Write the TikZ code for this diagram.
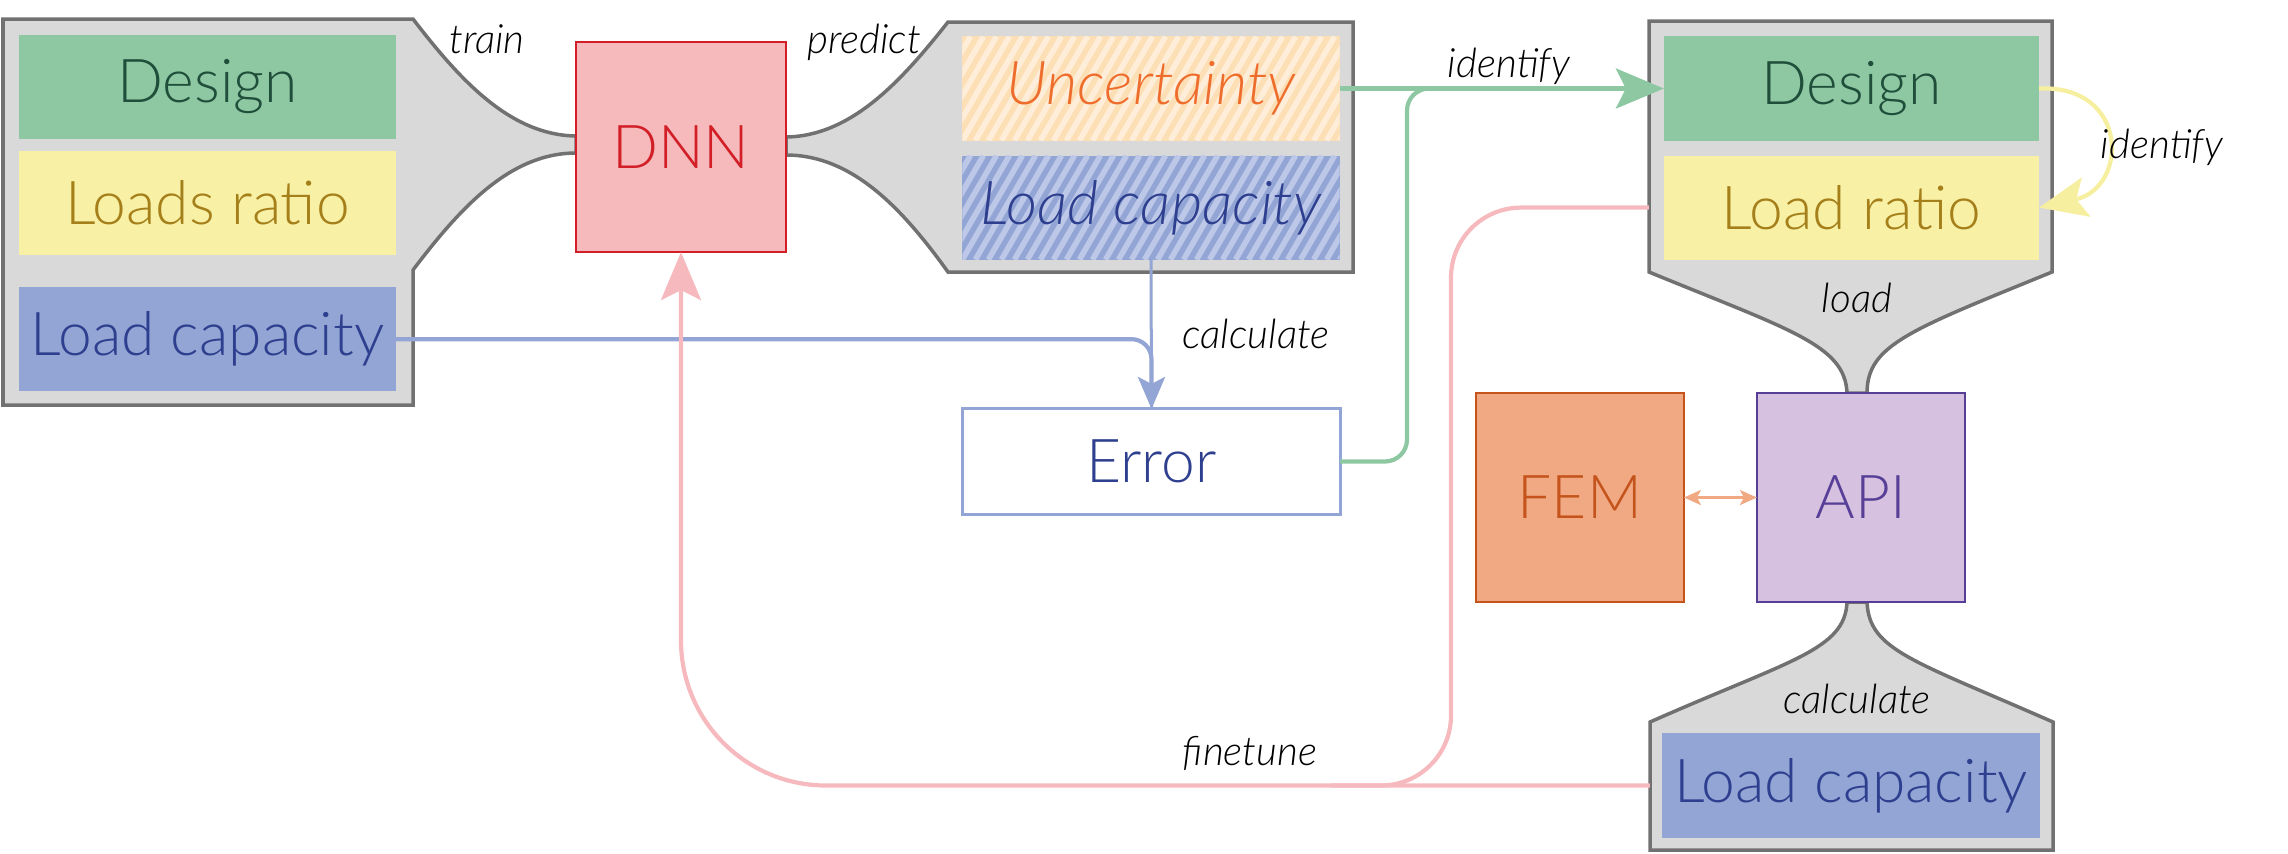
\documentclass[tikz,border=0pt]{standalone}
\usepackage{fontspec}
\IfFontExistsTF{Lato Light}{%
  \IfFontExistsTF{Lato Light Italic}{%
    \setmainfont{Lato Light}[ItalicFont={Lato Light Italic}]}{%
    \setmainfont{Lato Light}}}{%
  \setmainfont{Lato}}
\usepackage{tikz}
\usetikzlibrary{arrows.meta, calc, positioning}
\usepackage{xcolor}
\definecolor{TankGray}{HTML}{D9D9D9}
\definecolor{TankEdge}{HTML}{717171}
\definecolor{DesignGreen}{HTML}{8DC8A2}
\definecolor{DesignInk}{HTML}{1F4E3B}
\definecolor{RatioYellow}{HTML}{F8F0A4}
\definecolor{RatioInk}{HTML}{A47F1A}
\definecolor{CapBlue}{HTML}{93A5D4}
\definecolor{CapStripe}{HTML}{BDC8E8}
\definecolor{CapInk}{HTML}{2D3F8E}
\definecolor{UncOrange}{HTML}{FDDFB6}
\definecolor{UncStripe}{HTML}{FEEDD8}
\definecolor{UncInk}{HTML}{EF6D2C}
\definecolor{DnnPink}{HTML}{F6B9BC}
\definecolor{DnnRed}{HTML}{D21F27}
\definecolor{FemOrange}{HTML}{F0A983}
\definecolor{FemInk}{HTML}{C4541C}
\definecolor{ApiLilac}{HTML}{D6C1E0}
\definecolor{ApiInk}{HTML}{573E97}
\definecolor{FlowPink}{HTML}{F6BABE}
\definecolor{FlowGreen}{HTML}{8DC8A2}
\definecolor{FlowBlue}{HTML}{93A5D4}
\definecolor{FlowYellow}{HTML}{F7EFA0}
\newcommand{\boxfont}{\fontsize{17.2}{20}\selectfont}
\newcommand{\notefont}{\fontsize{11.5}{14}\selectfont\itshape}
\tikzset{%
  tank/.style={%
    fill=TankGray,%
    draw=TankEdge,%
    line width=0.035cm,%
  },
  flat_block/.style={%
    rectangle,%
    minimum width=3.77cm,%
    minimum height=1.04cm,%
    inner sep=0pt,%
    outer sep=0pt,%
    font=\boxfont,%
    align=center%
  },
  design_block/.style={flat_block, fill=DesignGreen, text=DesignInk},
  ratio_block/.style={flat_block, fill=RatioYellow, text=RatioInk},
  capacity_block/.style={flat_block, fill=CapBlue, text=CapInk},
  striped/.style={%
    path picture={%
      \foreach \k in {-6,...,30}{%
        \draw[#1, line width=0.056cm]
          ([xshift=\k*0.13cm]path picture bounding box.south west)
          --
          ++(0.6cm,1.04cm);
      }%
    },%
  },
  square_block/.style={%
    rectangle,%
    minimum width=2.08cm,%
    minimum height=2.09cm,%
    inner sep=0pt,%
    outer sep=0pt,%
    line width=0.02cm,%
    font=\boxfont%
  },
  error_block/.style={%
    flat_block,%
    minimum height=1.05cm,%
    fill=white,%
    draw=FlowBlue,%
    line width=0.03cm,%
    text=CapInk%
  },
  smooth_path/.style={%
    line width=0.042cm,%
    line join=round,%
  },
  annotate/.style={%
    font=\notefont,%
    anchor=base,%
    inner sep=0pt%
  },
  arrow/.style={-{Stealth[length=0.48cm, width=0.4cm, inset=0.1cm]}},
  small_arrow/.style={-{Stealth[length=0.32cm, width=0.27cm, inset=0.07cm]}},
  tiny_arrows/.style={{Stealth[length=0.17cm, width=0.15cm, inset=0.04cm]}-{Stealth[length=0.17cm, width=0.15cm, inset=0.04cm]}},
}

\begin{document}
\begin{tikzpicture}[x=0.01cm, y=-0.01cm]
    \useasboundingbox (0,0) rectangle (2288,853);

    % tanks
    \draw[tank]
      (3,19) -- (413,19)
      .. controls (460,80) and (510,135) .. (576,136)
      -- (576,153)
      .. controls (510,153) and (460,208) .. (413,270)
      -- (413,405) -- (3,405) -- cycle;
    \draw[tank]
      (786,137) .. controls (852,136) and (902,80) .. (948,22)
      -- (1353,22) -- (1353,272) -- (948,272)
      .. controls (902,208) and (852,155) .. (786,155) -- cycle;
    \draw[tank]
      (1649,21) -- (2052,21) -- (2052,272)
      .. controls (1910,330) and (1867,345) .. (1867,393)
      -- (1847,393)
      .. controls (1845,345) and (1790,330) .. (1649,272) -- cycle;
    \draw[tank]
      (1847,602) .. controls (1845,650) and (1790,660) .. (1650,722)
      -- (1650,850) -- (2053,850) -- (2053,722)
      .. controls (1912,660) and (1869,650) .. (1867,602) -- cycle;

    % blocks
    \node[design_block] (Design1) at (207.5,87) {Design};
    \node[ratio_block, below=0.12cm of Design1] (Ratio1) {Loads ratio};
    \node[capacity_block, below=0.32cm of Ratio1] (Capacity1) {Load capacity};
    \node[square_block, minimum width=2.1cm, minimum height=2.1cm,
      fill=DnnPink, draw=DnnRed, text=DnnRed] (DNN) at (681,147) {DNN};
    \node[flat_block, fill=UncOrange, striped=UncStripe, text=UncInk,
      font=\boxfont\itshape] (Uncertainty) at (1151,88.5) {Uncertainty};
    \node[flat_block, fill=CapBlue, striped=CapStripe, text=CapInk,
      font=\boxfont\itshape, below=0.15cm of Uncertainty] (Capacity2) {Load capacity};
    \node[error_block] (Error) at (1151.5,461.5) {Error};
    \node[design_block, minimum width=3.75cm] (Design2) at (1851.5,88.5) {Design};
    \node[ratio_block, minimum width=3.75cm, below=0.15cm of Design2] (Ratio2) {Load ratio};
    \node[square_block, fill=ApiLilac, draw=ApiInk, text=ApiInk] (API) at (1861,497.5) {API};
    \node[square_block, line width=0.025cm, fill=FemOrange, draw=FemInk, text=FemInk,
      left=0.73cm of API] (FEM) {FEM};
    \node[capacity_block, minimum width=3.78cm] (Capacity3) at (1851,785.5) {Load capacity};

    \coordinate (identify_join) at (1407,88.5);
    \coordinate (finetune_join) at (1451,785.5);

    % flows
    \draw[smooth_path, color=FlowBlue, small_arrow, rounded corners=0.2cm]
      (Capacity1.east)
      -|
      (Error.north);
    \draw[smooth_path, color=FlowBlue, line width=0.03cm]
      (Capacity2.south)
      --
      (Error.north);
    \draw[smooth_path, color=FlowGreen, arrow]
      (Uncertainty.east)
      --
      (Design2.west);
    \draw[smooth_path, color=FlowGreen, rounded corners=0.22cm]
      (Error.east)
      -|
      (identify_join)
      --
      ++(80,0);
    \draw[smooth_path, color=FlowYellow, arrow]
      (Design2.east)
      .. controls +(90,-4) and +(90,-20) ..
      (Ratio2.east);
    \draw[smooth_path, color=FlowPink, arrow, rounded corners=1.45cm]
      ([xshift=-0.12cm]Capacity3.west)
      --
      (DNN.south |- Capacity3.west)
      --
      (DNN.south);
    \draw[smooth_path, color=FlowPink, rounded corners=0.7cm]
      ([xshift=-0.15cm]Ratio2.west)
      -|
      (finetune_join)
      --
      ++(-120,0);
    \draw[smooth_path, color=FemOrange, line width=0.025cm, tiny_arrows]
      (FEM.east)
      --
      (API.west);

    % labels
    \node[annotate] (train_label) at (487,53) {train};
    \node[annotate] (predict_label) at (864,53) {predict};
    \node[annotate] (identify_label) at (1509,77) {identify};
    \node[annotate] (identify_loop_label) at (2162,158) {identify};
    \node[annotate] (load_label) at (1857,312) {load};
    \node[annotate] (error_label) at (1256,348) {calculate};
    \node[annotate] (capacity_label) at (1857,713) {calculate};
    \node[annotate] (finetune_label) at (1250,765) {finetune};

  \end{tikzpicture}
\end{document}
